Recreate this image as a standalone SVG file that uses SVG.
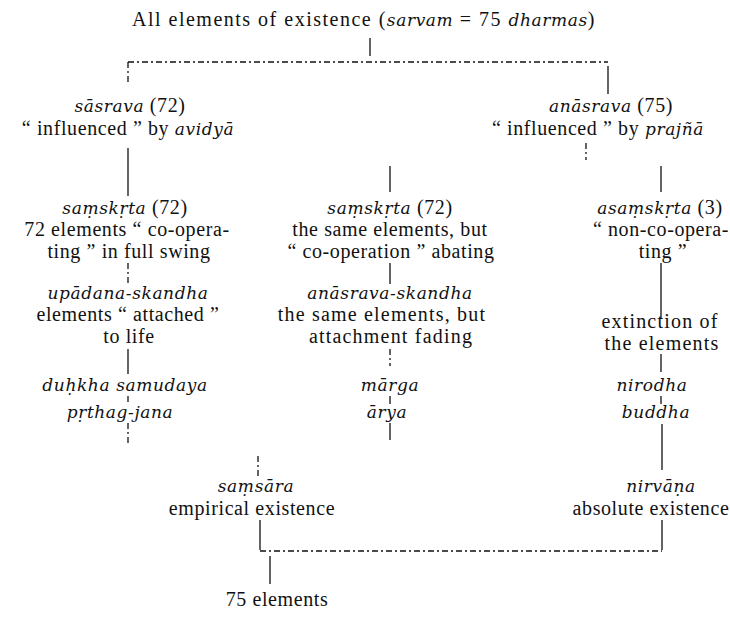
<svg xmlns="http://www.w3.org/2000/svg" width="730" height="629" viewBox="0 0 730 629">
<style>
text{font-family:"Liberation Serif","Times New Roman",serif;font-size:20px;letter-spacing:0.6px;fill:#111;text-anchor:middle}
.i{font-family:"DejaVu Serif","Liberation Serif",serif;font-style:italic;font-size:17px;letter-spacing:0.6px}
.t{letter-spacing:1.5px}
.w{letter-spacing:1.2px}
.c line{stroke:#111;stroke-width:1.3}
.d{stroke-dasharray:6 3 2 3}
</style>
<rect width="730" height="629" fill="#fff"/>
<g class="c">
<line x1="370" y1="38" x2="370" y2="56"/>
<line class="d" x1="128" y1="62" x2="608" y2="62"/>
<line class="d" x1="128" y1="62" x2="128" y2="82"/>
<line x1="608" y1="66" x2="608" y2="94"/>
<line x1="128" y1="148" x2="128" y2="196"/>
<line class="d" x1="586" y1="143" x2="586" y2="160"/>
<line x1="390" y1="166" x2="390" y2="192"/>
<line x1="661" y1="166" x2="661" y2="192"/>
<line class="d" x1="128" y1="263" x2="128" y2="284"/>
<line x1="390" y1="263" x2="390" y2="284"/>
<line x1="661" y1="263" x2="661" y2="318"/>
<line x1="128" y1="349" x2="128" y2="374"/>
<line class="d" x1="390" y1="349" x2="390" y2="366"/>
<line x1="661" y1="354" x2="661" y2="372"/>
<line class="d" x1="128" y1="396" x2="128" y2="404"/>
<line x1="390" y1="396" x2="390" y2="404"/>
<line x1="661" y1="396" x2="661" y2="404"/>
<line class="d" x1="128" y1="423" x2="128" y2="445"/>
<line x1="390" y1="423" x2="390" y2="440"/>
<line x1="662" y1="424" x2="662" y2="470"/>
<line class="d" x1="258" y1="456" x2="258" y2="476"/>
<line x1="260" y1="520" x2="260" y2="550"/>
<line x1="662" y1="520" x2="662" y2="550"/>
<line class="d" x1="260" y1="551" x2="662" y2="551"/>
<line x1="270" y1="556" x2="270" y2="584"/>
</g>
<g id="n-all"><text class="t" x="364" y="26">All elements of existence (<tspan class="i">sarvam</tspan> = 75 <tspan class="i">dharmas</tspan>)</text></g>
<g id="n-sasrava">
<text x="130" y="112"><tspan class="i">sāsrava</tspan> (72)</text>
<text x="128" y="135">“ influenced ” by <tspan class="i">avidyā</tspan></text>
</g>
<g id="n-anasrava">
<text x="611" y="112"><tspan class="i">anāsrava</tspan> (75)</text>
<text x="598" y="135">“ influenced ” by <tspan class="i">prajñā</tspan></text>
</g>
<g id="n-samskrta-l">
<text x="125" y="214"><tspan class="i">saṃskṛta</tspan> (72)</text>
<text x="127" y="236">72 elements “ co-opera-</text>
<text x="129" y="258">ting ” in full swing</text>
</g>
<g id="n-samskrta-m">
<text x="390" y="214"><tspan class="i">saṃskṛta</tspan> (72)</text>
<text x="390" y="236">the same elements, but</text>
<text x="391" y="258">“ co-operation ” abating</text>
</g>
<g id="n-asamskrta">
<text x="660" y="214"><tspan class="i">asaṃskṛta</tspan> (3)</text>
<text x="661" y="236">“ non-co-opera-</text>
<text x="663" y="258">ting ”</text>
</g>
<g id="n-upadana">
<text class="i" x="128" y="299">upādana-skandha</text>
<text x="128" y="321">elements “ attached ”</text>
<text x="129" y="343">to life</text>
</g>
<g id="n-anasrava-sk">
<text class="i" x="390" y="299">anāsrava-skandha</text>
<text x="382" y="321" class="w">the same elements, but</text>
<text x="391" y="343" class="w">attachment fading</text>
</g>
<g id="n-extinction">
<text x="660" y="328" class="w">extinction of</text>
<text x="662" y="350" class="w">the elements</text>
</g>
<g id="n-duhkha"><text class="i" x="125" y="391">duḥkha samudaya</text></g>
<g id="n-marga"><text class="i" x="390" y="391">mārga</text></g>
<g id="n-nirodha"><text class="i" x="652" y="391">nirodha</text></g>
<g id="n-prthag"><text class="i" x="120" y="418">pṛthag-jana</text></g>
<g id="n-arya"><text class="i" x="387" y="418">ārya</text></g>
<g id="n-buddha"><text class="i" x="656" y="418">buddha</text></g>
<g id="n-samsara">
<text class="i" x="256" y="492">saṃsāra</text>
<text x="252" y="515">empirical existence</text>
</g>
<g id="n-nirvana">
<text class="i" x="661" y="492">nirvāṇa</text>
<text x="651" y="515">absolute existence</text>
</g>
<g id="n-75"><text x="277" y="606">75 elements</text></g>
</svg>
